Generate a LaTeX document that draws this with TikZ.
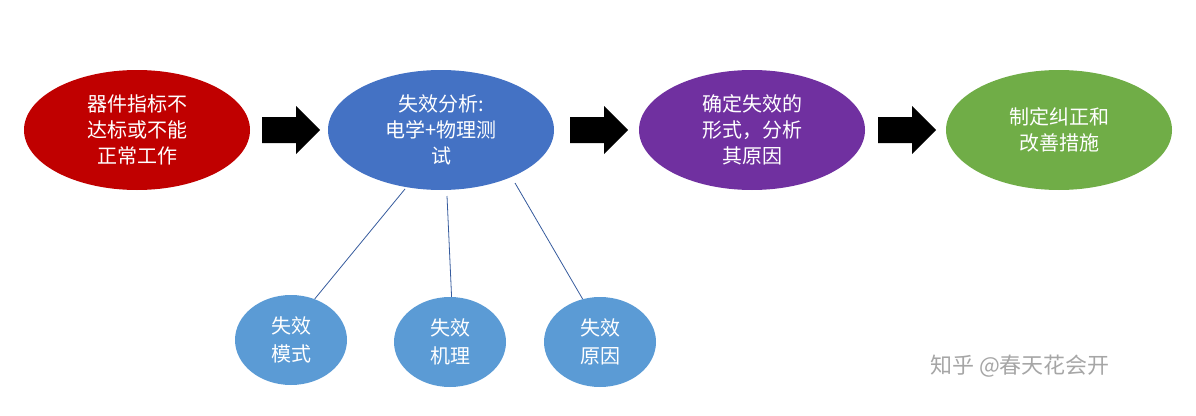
\documentclass[tikz,border=0pt]{standalone}
\usepackage{fontspec}
\setmainfont{Noto Sans CJK SC}
\usetikzlibrary{shapes.geometric}
\definecolor{cred}{HTML}{C00000}
\definecolor{cblue}{HTML}{4472C4}
\definecolor{cpur}{HTML}{7030A0}
\definecolor{cgreen}{HTML}{70AD47}
\definecolor{csmall}{HTML}{5B9BD5}
\begin{document}
\begin{tikzpicture}[x=1pt,y=-1pt,
  big/.style={ellipse,minimum width=226pt,minimum height=120pt,inner sep=0pt,text=white,align=center,font=\fontsize{20}{26}\selectfont},
  small/.style={ellipse,fill=csmall,minimum width=112pt,minimum height=90pt,inner sep=0pt,text=white,align=center,font=\fontsize{20}{28}\selectfont},
  conn/.style={draw=cblue!80!black,line width=0.8pt},
  barrow/.style={fill=black}]
\useasboundingbox (0,0) rectangle (1196,415);
\node[big,fill=cred] (a) at (137,130) {器件指标不\\达标或不能\\正常工作};
\node[big,fill=cblue] (b) at (441,130) {失效分析:\\电学+物理测\\试};
\node[big,fill=cpur] (c) at (752,130) {确定失效的\\形式，分析\\其原因};
\node[big,fill=cgreen] (d) at (1059,130) {制定纠正和\\改善措施};
\node[small] (s1) at (291,340) {失效\\模式};
\node[small] (s2) at (450,342) {失效\\机理};
\node[small] (s3) at (600,342) {失效\\原因};
\draw[conn] (405,189) -- (s1.60);
\draw[conn] (447,196) -- (s2.88);
\draw[conn] (515,183) -- (s3.112);
\foreach \x in {262,570,878}{
  \fill (\x,117) -- (\x+34,117) -- (\x+34,106) -- (\x+58,130) -- (\x+34,154) -- (\x+34,143) -- (\x,143) -- cycle;
}
\node[text=black!35,font=\fontsize{22}{26}\selectfont,anchor=center] (w) at (1020,366) {知乎 @春天花会开};
\end{tikzpicture}
\end{document}
